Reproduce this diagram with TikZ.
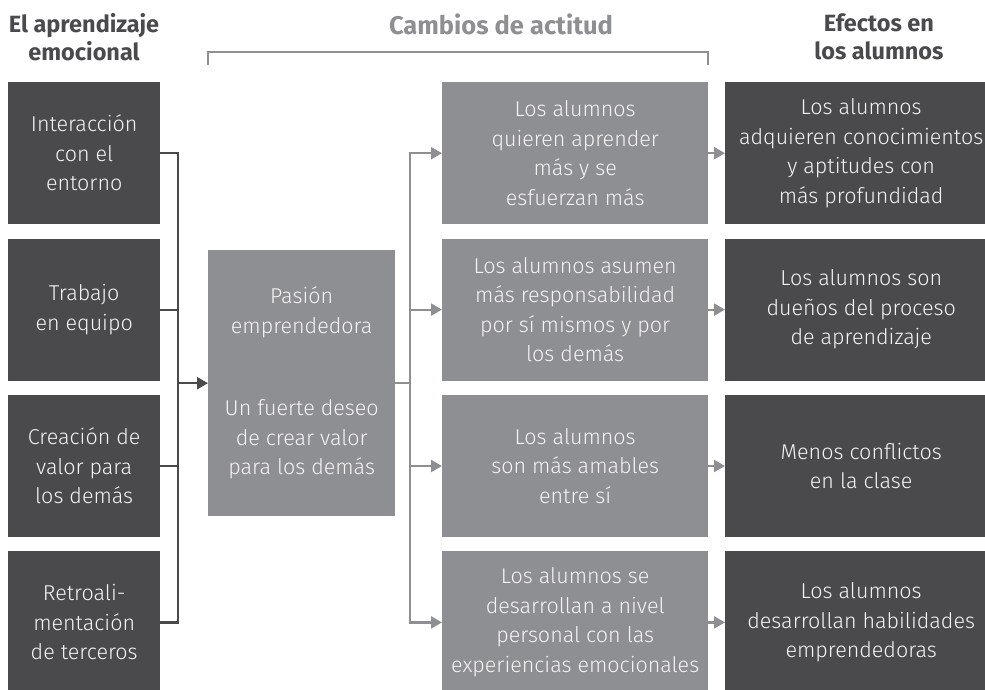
\documentclass[tikz,border=0pt]{standalone}
\usepackage{fontspec}
\setmainfont{Fira Sans}[UprightFont={* Light}, BoldFont={* Bold}]
\usetikzlibrary{arrows.meta,positioning}
\definecolor{dark}{HTML}{4A4A4C}
\definecolor{mid}{HTML}{8E8F92}
\definecolor{boxtext}{HTML}{F4F4F4}

\begin{document}
\begin{tikzpicture}[
    x=1pt, y=-1pt,
    box/.style={inner sep=0pt, align=center, text=boxtext, anchor=north west,
        font=\fontsize{21.5}{29.5}\selectfont, minimum width=#1, minimum height=142pt},
    darkbox/.style={box=#1, fill=dark},
    midbox/.style={box=#1, fill=mid},
    head/.style={inner sep=0pt, anchor=north, align=center, text=dark,
        font=\bfseries\fontsize{23.5}{28}\selectfont},
    darkline/.style={draw=dark, line width=2.2pt},
    grayline/.style={draw=mid, line width=2.2pt},
    tip/.style={-{Triangle[length=11pt,width=12pt]}},
    ]
    \useasboundingbox (0,0) rectangle (985,689);

    % headers
    \node at(84,13) [head](hleft){El aprendizaje\\emocional};
    \node at(501,14) [head, text=mid, font=\bfseries\fontsize{25.5}{30}\selectfont](hmid){Cambios de actitud};
    \node at(879,13) [head](hright){Efectos en\\los alumnos};
    \coordinate (brl) at (208,65);
    \coordinate (brr) at (708,65);
    \draw[grayline, line width=2pt] (brl) -- ++(0,-13) -| (brr);

    % el aprendizaje emocional
    \node at(8,82) [darkbox=152pt](l1){Interacción\\con el\\entorno};
    \node [darkbox=152pt, below=14pt of l1](l2){Trabajo\\en equipo};
    \node [darkbox=152pt, below=14pt of l2](l3){Creación de\\valor para\\los demás};
    \node [darkbox=152pt, below=14pt of l3](l4){Retroali-\\mentación\\de terceros};

    % pasion
    \node at(208,250) [midbox=187pt, minimum height=266pt](pas){Pasión\\emprendedora\\[53pt]Un fuerte deseo\\de crear valor\\para los demás};

    % cambios de actitud
    \node at(442,82) [midbox=266pt](m1){Los alumnos\\quieren aprender\\más y se\\esfuerzan más};
    \node [midbox=266pt, below=14pt of m1](m2){Los alumnos asumen\\más responsabilidad\\por sí mismos y por\\los demás};
    \node [midbox=266pt, below=14pt of m2](m3){Los alumnos\\son más amables\\entre sí};
    \node [midbox=266pt, below=14pt of m3](m4){Los alumnos se\\desarrollan a nivel\\personal con las\\experiencias emocionales};

    % efectos
    \node at(725,82) [darkbox=272pt](r1){Los alumnos\\adquieren conocimientos\\y aptitudes con\\más profundidad};
    \node [darkbox=272pt, below=14pt of r1](r2){Los alumnos son\\dueños del proceso\\de aprendizaje};
    \node [darkbox=272pt, below=14pt of r2](r3){Menos conflictos\\en la clase};
    \node [darkbox=272pt, below=14pt of r3](r4){Los alumnos\\desarrollan habilidades\\emprendedoras};

    % connectors
    \coordinate (lbus) at (178,0);
    \coordinate (rbus) at (410,0);
    \draw[darkline] (l1.east) -| (l4.east -| lbus) -- (l4.east);
    \draw[darkline] (l2.east) -- (l2.east -| lbus);
    \draw[darkline] (l3.east) -- (l3.east -| lbus);
    \draw[darkline, tip] (pas.west -| lbus) -- (pas.west);

    \draw[grayline] (pas.east) -- (pas.east -| rbus);
    \draw[grayline, line cap=rect] (m1.west -| rbus) -- (m4.west -| rbus);
    \foreach \i in {1,...,4}{
        \draw[grayline, tip] (m\i.west -| rbus) -- (m\i.west);
        \draw[grayline, tip] (m\i.east) -- (r\i.west);
    }
\end{tikzpicture}
\end{document}
